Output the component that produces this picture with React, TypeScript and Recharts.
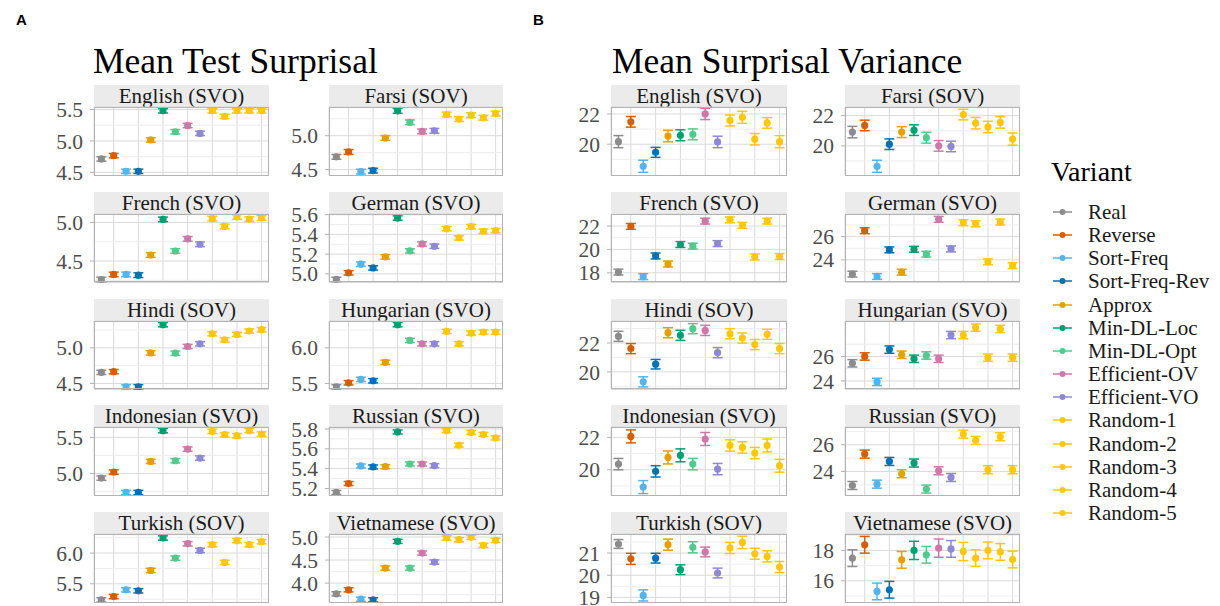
import React from 'react';
import { ScatterChart, Scatter, XAxis, YAxis, CartesianGrid, ErrorBar, ReferenceLine } from 'recharts';

const SERIF = '"Liberation Serif", "Times New Roman", Times, serif';

const variants = ['Real', 'Reverse', 'Sort-Freq', 'Sort-Freq-Rev', 'Approx', 'Min-DL-Loc', 'Min-DL-Opt', 'Efficient-OV', 'Efficient-VO', 'Random-1', 'Random-2', 'Random-3', 'Random-4', 'Random-5'];
const variantColors = ['#8c8c8c', '#D55E00', '#56B4E9', '#0072B2', '#E69F00', '#009E73', '#55C88E', '#CC79A7', '#8F88D2', '#FDC70C', '#FDC70C', '#FDC70C', '#FDC70C', '#FDC70C'];
const languages = ['English (SVO)', 'Farsi (SOV)', 'French (SVO)', 'German (SVO)', 'Hindi (SOV)', 'Hungarian (SVO)', 'Indonesian (SVO)', 'Russian (SVO)', 'Turkish (SOV)', 'Vietnamese (SVO)'];

// ---- A: Mean test surprisal ----
const surprisalEnglish = [4.714, 4.766, 4.516, 4.516, 5.016, 5.48, 5.146, 5.245, 5.12, 5.48, 5.39, 5.48, 5.48, 5.48];
const surprisalFarsi = [4.688, 4.76, 4.47, 4.485, 4.966, 5.365, 5.197, 5.063, 5.072, 5.313, 5.245, 5.303, 5.264, 5.327];
const surprisalFrench = [4.261, 4.326, 4.326, 4.317, 4.578, 5.039, 4.63, 4.787, 4.717, 5.048, 4.948, 5.07, 5.043, 5.057];
const surprisalGerman = [4.943, 5.01, 5.098, 5.06, 5.172, 5.566, 5.233, 5.303, 5.28, 5.458, 5.364, 5.479, 5.432, 5.438];
const surprisalHindi = [4.656, 4.665, 4.453, 4.453, 4.929, 5.325, 4.925, 5.019, 5.057, 5.198, 5.113, 5.189, 5.236, 5.255];
const surprisalHungarian = [5.453, 5.509, 5.557, 5.538, 5.797, 6.325, 6.104, 6.057, 6.057, 6.231, 6.057, 6.208, 6.222, 6.222];
const surprisalIndonesian = [4.935, 5.019, 4.736, 4.736, 5.167, 5.593, 5.176, 5.338, 5.213, 5.583, 5.537, 5.523, 5.593, 5.546];
const surprisalRussian = [5.16, 5.25, 5.427, 5.417, 5.42, 5.77, 5.447, 5.447, 5.43, 5.783, 5.637, 5.765, 5.745, 5.71];
const surprisalTurkish = [5.239, 5.293, 5.402, 5.386, 5.717, 6.245, 5.918, 6.152, 6.043, 6.136, 5.848, 6.201, 6.136, 6.185];
const surprisalVietnamese = [3.768, 3.855, 3.652, 3.638, 4.326, 4.906, 4.326, 4.652, 4.457, 4.978, 4.942, 4.993, 4.819, 4.928];
const surprisalErr = [0.035, 0.035, 0.03, 0.022, 0.03, 0.03, 0.03, 0.02, 0.035, 0.045];
const surprisalDomains = [[4.45, 5.54], [4.413, 5.423], [4.222, 5.109], [4.912, 5.607], [4.415, 5.377], [5.415, 6.377], [4.694, 5.644], [5.129, 5.82], [5.196, 6.31], [3.58, 5.065]];
const surprisalTicks = [[4.5, 5.0, 5.5], [4.5, 5.0], [4.5, 5.0], [5.0, 5.2, 5.4, 5.6], [4.5, 5.0], [5.5, 6.0], [5.0, 5.5], [5.2, 5.4, 5.6, 5.8], [5.5, 6.0], [4.0, 4.5, 5.0]];

// ---- B: Mean surprisal variance ----
const varianceEnglish = [20.17, 21.48, 18.54, 19.46, 20.54, 20.59, 20.65, 22.0, 20.15, 21.57, 21.78, 20.33, 21.41, 20.17];
const varianceFarsi = [20.91, 21.35, 18.65, 20.11, 20.91, 21.04, 20.54, 20.0, 19.96, 22.07, 21.5, 21.25, 21.55, 20.45];
const varianceFrench = [18.06, 21.97, 17.67, 19.44, 18.75, 20.42, 20.28, 22.42, 20.5, 22.53, 22.06, 19.36, 22.42, 19.39];
const varianceGerman = [22.77, 26.51, 22.57, 24.86, 22.94, 24.91, 24.49, 27.49, 24.94, 27.2, 27.1, 23.83, 27.26, 23.5];
const varianceHindi = [22.46, 21.61, 19.31, 20.53, 22.71, 22.53, 22.99, 22.87, 21.33, 22.64, 22.34, 21.89, 22.6, 21.61];
const varianceHungarian = [25.44, 26.0, 23.92, 26.56, 26.14, 25.81, 26.08, 25.81, 27.75, 27.75, 28.36, 25.9, 28.25, 25.9];
const varianceIndonesian = [20.35, 22.06, 18.93, 19.9, 20.76, 20.89, 20.35, 21.9, 20.04, 21.5, 21.38, 21.03, 21.5, 20.25];
const varianceRussian = [22.95, 25.3, 23.05, 24.75, 23.83, 24.63, 22.68, 24.05, 23.55, 26.8, 26.33, 24.13, 26.6, 24.13];
const varianceTurkish = [21.41, 20.74, 19.09, 20.77, 21.38, 20.25, 21.26, 21.05, 20.1, 21.23, 21.48, 20.97, 20.85, 20.37];
const varianceVietnamese = [17.49, 18.37, 15.3, 15.41, 17.38, 18.0, 17.71, 18.15, 18.1, 17.93, 17.49, 18.0, 17.9, 17.4];

const varianceErrEnglish = [0.4, 0.35, 0.4, 0.33, 0.38, 0.36, 0.36, 0.37, 0.38, 0.36, 0.4, 0.38, 0.35, 0.4];
const varianceErrFarsi = [0.38, 0.35, 0.4, 0.35, 0.36, 0.35, 0.36, 0.35, 0.35, 0.35, 0.38, 0.38, 0.38, 0.4];
const varianceErrFrench = [0.25, 0.25, 0.25, 0.25, 0.25, 0.25, 0.25, 0.25, 0.25, 0.25, 0.25, 0.25, 0.25, 0.25];
const varianceErrGerman = [0.25, 0.25, 0.25, 0.25, 0.25, 0.25, 0.25, 0.25, 0.25, 0.25, 0.25, 0.25, 0.25, 0.25];
const varianceErrHindi = [0.35, 0.35, 0.35, 0.33, 0.35, 0.35, 0.35, 0.35, 0.35, 0.35, 0.35, 0.35, 0.35, 0.35];
const varianceErrHungarian = [0.3, 0.3, 0.3, 0.3, 0.3, 0.3, 0.3, 0.3, 0.3, 0.3, 0.3, 0.3, 0.3, 0.3];
const varianceErrIndonesian = [0.35, 0.4, 0.4, 0.35, 0.4, 0.4, 0.35, 0.4, 0.35, 0.35, 0.35, 0.35, 0.4, 0.4];
const varianceErrRussian = [0.3, 0.3, 0.3, 0.3, 0.3, 0.3, 0.3, 0.3, 0.3, 0.3, 0.3, 0.3, 0.3, 0.3];
const varianceErrTurkish = [0.2, 0.25, 0.25, 0.22, 0.25, 0.22, 0.25, 0.22, 0.22, 0.25, 0.28, 0.25, 0.25, 0.25];
const varianceErrVietnamese = [0.55, 0.55, 0.55, 0.55, 0.55, 0.6, 0.55, 0.6, 0.55, 0.6, 0.55, 0.55, 0.55, 0.55];
const varianceDomains = [[17.93, 22.46], [18.04, 22.57], [17.17, 23.03], [22.05, 27.95], [18.78, 23.52], [23.3, 28.9], [18.41, 22.64], [22.2, 27.33], [18.77, 21.86], [14.57, 19.08]];
const varianceTicks = [[20, 22], [20, 22], [18, 20, 22], [24, 26], [20, 22], [24, 26], [20, 22], [24, 26], [19, 20, 21], [16, 18]];

const surprisalMeans = [surprisalEnglish, surprisalFarsi, surprisalFrench, surprisalGerman, surprisalHindi, surprisalHungarian, surprisalIndonesian, surprisalRussian, surprisalTurkish, surprisalVietnamese];
const varianceMeans = [varianceEnglish, varianceFarsi, varianceFrench, varianceGerman, varianceHindi, varianceHungarian, varianceIndonesian, varianceRussian, varianceTurkish, varianceVietnamese];
const varianceErrs = [varianceErrEnglish, varianceErrFarsi, varianceErrFrench, varianceErrGerman, varianceErrHindi, varianceErrHungarian, varianceErrIndonesian, varianceErrRussian, varianceErrTurkish, varianceErrVietnamese];

// ---- layout ----
const AXIS_W = 60;
const STRIP_H = 22;
const PANEL_H = 68.5;
const PAD = 14;
const FIRST_STRIP = 85;
const ROW_PITCH = 106.75;
const colsA = [{ left: 94, w: 175 }, { left: 329, w: 174 }];
const colsB = [{ left: 611, w: 176 }, { left: 845, w: 175 }];
const xTicks = variants.map((_, i) => i + 1);

function minorTicks(ticks: number[], domain: number[]) {
  const step = ticks.length > 1 ? ticks[1] - ticks[0] : 0.5;
  const out: number[] = [];
  const all = [ticks[0] - step, ...ticks, ticks[ticks.length - 1] + step];
  for (let i = 0; i < all.length - 1; i++) {
    const m = (all[i] + all[i + 1]) / 2;
    if (m > domain[0] && m < domain[1]) out.push(m);
  }
  return out;
}

type PanelProps = {
  left: number; top: number; w: number; title: string;
  means: number[]; errs: number[]; domain: number[]; ticks: number[]; decimals: number;
};

function Panel({ left, top, w, title, means, errs, domain, ticks, decimals }: PanelProps) {
  const minors = minorTicks(ticks, domain);
  return (
    <div style={{ position: 'absolute', left: left - AXIS_W, top, width: w + AXIS_W, height: STRIP_H + PANEL_H }}>
      <div style={{ position: 'absolute', left: AXIS_W, top: 0, width: w, height: STRIP_H, background: '#ebebeb', color: '#1a1a1a', fontFamily: SERIF, fontSize: 21, lineHeight: `${STRIP_H}px`, textAlign: 'center', whiteSpace: 'nowrap' }}>{title}</div>
      <div style={{ position: 'absolute', left: 0, top: STRIP_H - PAD, fontFamily: SERIF }}>
        <ScatterChart width={w + AXIS_W} height={PANEL_H + 2 * PAD} margin={{ top: PAD, right: 0, bottom: PAD, left: 0 }}>
          <XAxis type="number" dataKey="x" domain={[0.4, 14.6]} ticks={xTicks} hide allowDataOverflow />
          <YAxis type="number" dataKey="y" domain={domain} ticks={ticks} width={AXIS_W} allowDataOverflow interval={0}
            tickFormatter={(v: number) => v.toFixed(decimals)}
            tick={{ fontSize: 21.5, fill: '#4d4d4d', fontFamily: SERIF }}
            tickSize={4} tickMargin={7} axisLine={false} tickLine={{ stroke: '#b3b3b3' }} />
          {minors.map((m) => (
            <ReferenceLine key={m} y={m} stroke="#ededed" strokeWidth={1} ifOverflow="discard" />
          ))}
          <CartesianGrid stroke="#dadada" strokeWidth={1} />
          {variants.map((v, i) => (
            <Scatter key={v} name={v} data={[{ x: i + 1, y: means[i], e: errs[i] }]} fill={variantColors[i]} isAnimationActive={false}
              shape={(p: any) => <circle cx={p.cx} cy={p.cy} r={3.6} fill={variantColors[i]} />}>
              <ErrorBar dataKey="e" direction="y" stroke={variantColors[i]} strokeWidth={1.5} width={5} isAnimationActive={false} />
            </Scatter>
          ))}
        </ScatterChart>
      </div>
      <div style={{ position: 'absolute', left: AXIS_W, top: STRIP_H, width: w, height: PANEL_H, boxSizing: 'border-box', border: '1px solid #b3b3b3', pointerEvents: 'none' }} />
    </div>
  );
}

export default function App() {
  return (
    <div style={{ position: 'absolute', left: 0, top: 0, width: 1220, height: 606, background: '#fff', overflow: 'hidden', fontFamily: SERIF }}>
      <div style={{ position: 'absolute', left: 16, top: 11, fontFamily: '"Liberation Sans", Arial, sans-serif', fontWeight: 'bold', fontSize: 15 }}>A</div>
      <div style={{ position: 'absolute', left: 533, top: 11, fontFamily: '"Liberation Sans", Arial, sans-serif', fontWeight: 'bold', fontSize: 15 }}>B</div>
      <div style={{ position: 'absolute', left: 93, top: 41, fontSize: 35.5, lineHeight: '40px', color: '#000', whiteSpace: 'nowrap' }}>Mean Test Surprisal</div>
      <div style={{ position: 'absolute', left: 612, top: 41, fontSize: 35.5, lineHeight: '40px', color: '#000', whiteSpace: 'nowrap' }}>Mean Surprisal Variance</div>

      {languages.map((lang, k) => {
        const row = Math.floor(k / 2);
        const col = colsA[k % 2];
        return (
          <Panel key={'A' + lang} left={col.left} w={col.w} top={FIRST_STRIP + row * ROW_PITCH} title={lang}
            means={surprisalMeans[k]} errs={surprisalMeans[k].map(() => surprisalErr[k])}
            domain={surprisalDomains[k]} ticks={surprisalTicks[k]} decimals={1} />
        );
      })}
      {languages.map((lang, k) => {
        const row = Math.floor(k / 2);
        const col = colsB[k % 2];
        return (
          <Panel key={'B' + lang} left={col.left} w={col.w} top={FIRST_STRIP + row * ROW_PITCH} title={lang}
            means={varianceMeans[k]} errs={varianceErrs[k]}
            domain={varianceDomains[k]} ticks={varianceTicks[k]} decimals={0} />
        );
      })}

      <div style={{ position: 'absolute', left: 1051, top: 155, fontSize: 28, lineHeight: '34px', color: '#000' }}>Variant</div>
      {variants.map((v, i) => (
        <div key={v} style={{ position: 'absolute', left: 1050, top: 200 + i * 23.15, height: 24, width: 170 }}>
          <svg width={26} height={24} style={{ position: 'absolute', left: 0, top: 0 }}>
            <line x1={3} x2={22} y1={12} y2={12} stroke={variantColors[i]} strokeWidth={1.5} />
            <circle cx={12.5} cy={12} r={3} fill={variantColors[i]} />
          </svg>
          <div style={{ position: 'absolute', left: 38, top: 0, fontSize: 21, lineHeight: '24px', color: '#1a1a1a', whiteSpace: 'nowrap' }}>{v}</div>
        </div>
      ))}
    </div>
  );
}
